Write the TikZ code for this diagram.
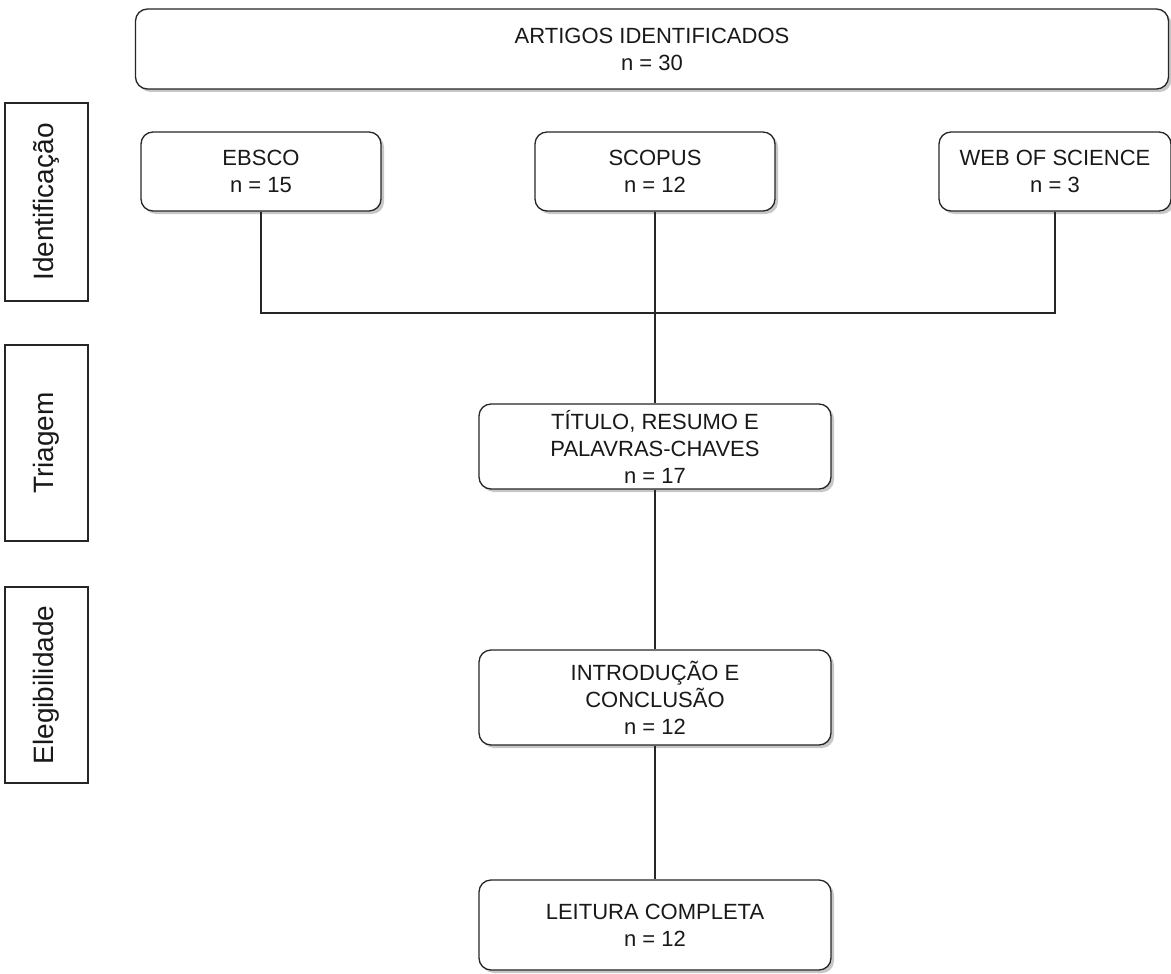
\documentclass[tikz,border=0pt]{standalone}
\usepackage{fontspec}
\setmainfont{Liberation Sans}
\usetikzlibrary{shadows}
\begin{document}
\begin{tikzpicture}[x=1pt,y=-1pt,
  box/.style={draw=black!85, line width=1.3pt, rounded corners=12pt, fill=white,
    align=center, inner sep=0pt, text=black!90,
    font=\fontsize{22}{27}\selectfont,
    drop shadow={shadow xshift=3pt, shadow yshift=-3pt, fill=black, opacity=0.22}},
  side/.style={draw=black!85, line width=1.3pt, fill=white, inner sep=0pt,
    minimum width=83pt, text=black!90, font=\fontsize{28}{32}\selectfont},
  conn/.style={draw=black!85, line width=1.3pt}]
\useasboundingbox (0,0) rectangle (1171,974);
\node[box, minimum width=1033pt, minimum height=80pt] (top) at (652,49) {ARTIGOS IDENTIFICADOS\\n = 30};
\node[box, minimum width=240pt, minimum height=79pt] (ebsco) at (261,171.5) {EBSCO\\n = 15};
\node[box, minimum width=240pt, minimum height=79pt] (scopus) at (655,171.5) {SCOPUS\\n = 12};
\node[box, minimum width=232pt, minimum height=79pt] (wos) at (1055,171.5) {WEB OF SCIENCE\\n = 3};
\node[box, minimum width=352pt, minimum height=85pt] (tit) at (655,446.5) {TÍTULO, RESUMO E\\PALAVRAS-CHAVES\\n = 17};
\node[box, minimum width=352pt, minimum height=95pt] (intro) at (655,697.5) {INTRODUÇÃO E\\CONCLUSÃO\\n = 12};
\node[box, minimum width=352pt, minimum height=90pt] (leit) at (655,925) {LEITURA COMPLETA\\n = 12};
\node[side, minimum height=198pt] (s1) at (46.5,202) {\rotatebox{90}{Identificação}};
\node[side, minimum height=196pt] (s2) at (46.5,443) {\rotatebox{90}{Triagem}};
\node[side, minimum height=196pt] (s3) at (46.5,685) {\rotatebox{90}{Elegibilidade}};
\coordinate (j) at (655,313);
\draw[conn] (ebsco.south) |- (j);
\draw[conn] (wos.south) |- (j);
\draw[conn] (scopus.south) -- (tit.north);
\draw[conn] (tit.south) -- (intro.north);
\draw[conn] (intro.south) -- (leit.north);
\end{tikzpicture}
\end{document}
